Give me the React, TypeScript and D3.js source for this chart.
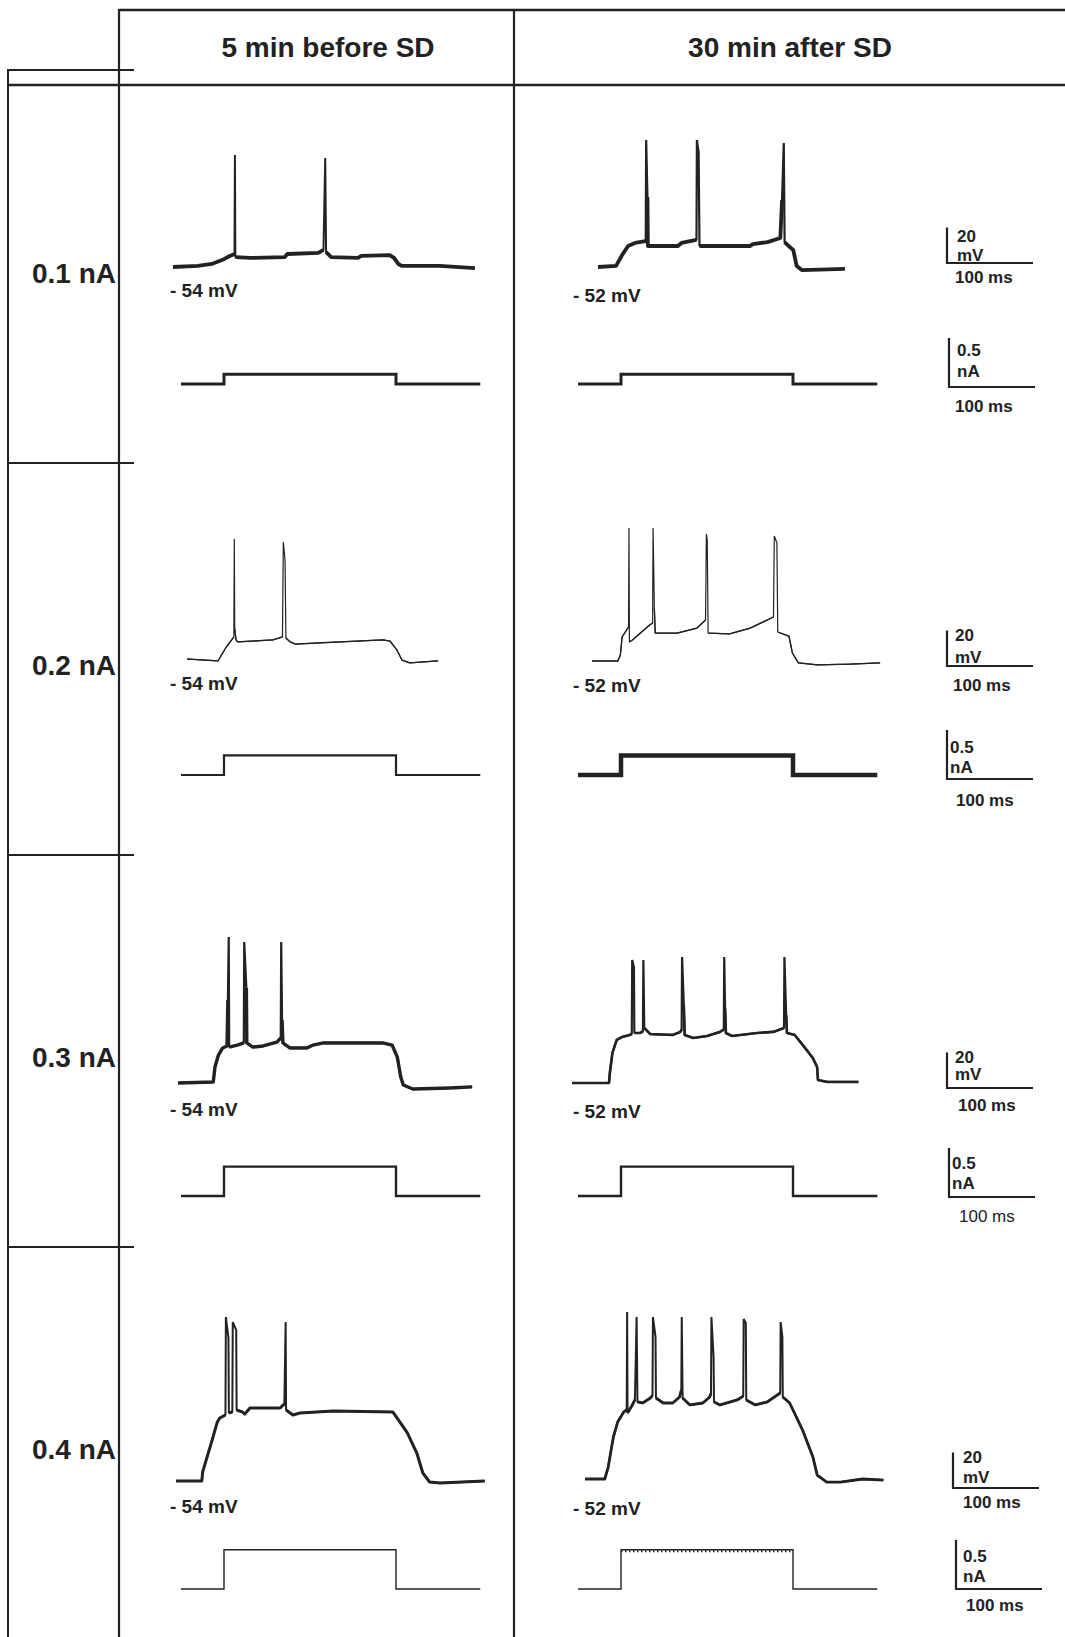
import * as d3 from 'd3';

type Pt = [number, number];

// table headings
const columns = ['5 min before SD', '30 min after SD'];
const stimulusLabels = ['0.1 nA', '0.2 nA', '0.3 nA', '0.4 nA'];
const stimulusAmps = [0.1, 0.2, 0.3, 0.4]; // nA
const restPotentials = [-54, -52]; // mV, before / after
const restLabels = ['- 54 mV', '- 52 mV'];

// current step: sweep start, step on, step off, sweep end (ms)
const stepTimes = [0, 50, 250, 348];

// calibration bars
const barMv = 20;
const barNa = 0.5;
const barMs = 100;

// membrane potential traces [ms, mV]
const r1Before: Pt[] = [[0,-54],[29,-53.4],[45,-52.3],[57,-50.1],[66,-47.8],[71.5,-46.7],[72,8.9],[72.5,-48.4],[90,-48.9],[130,-48.4],[133,-46.7],[169,-46.1],[175,-44.4],[177,7.2],[178,-45.6],[184,-48.4],[215,-48.9],[219,-47.8],[252,-47.3],[257,-48.9],[262,-52.3],[266,-53.4],[310,-53.4],[351,-54.6]];
const r1After: Pt[] = [[0,-52],[21,-51.4],[28,-45.3],[35,-40.2],[43,-38.5],[55.5,-37.4],[56,19.3],[57.5,-12.7],[58,-40.2],[93,-40.2],[97,-38.5],[114.5,-36.8],[115,19.3],[117,12.6],[118,-40.2],[177,-40.2],[180,-39.1],[197,-38],[212,-35.7],[214,-14.4],[216,17.7],[217,-38],[223,-40.8],[227,-42.4],[231,-51.4],[237,-53.7],[287,-53.1]];
const r2Before: Pt[] = [[0,-54],[21,-54.6],[36,-55.1],[45,-47.8],[54.5,-41.6],[55,13.4],[55.5,-37.1],[57,-43.3],[59,-44.4],[100,-43.3],[111,-41.6],[112,11.7],[114,1.6],[115,-42.2],[120,-44.4],[126,-45.6],[151,-45],[228,-43.3],[236,-43.9],[244,-48.9],[250,-54.6],[259,-56.2],[292,-55.1]];
const r2After: Pt[] = [[0,-52],[30,-52],[33,-48.6],[35,-38.5],[42.5,-32.9],[43,22.7],[43.5,-41.3],[47,-40.2],[67,-31.8],[70.5,-30.7],[71,22.7],[72.5,-22.2],[73.5,-36.3],[99,-36.3],[122,-33.5],[132,-29],[133,19.3],[134,16],[135,-36.3],[160,-36.8],[184,-33.5],[211,-27.3],[212,18.2],[215,14.3],[216,-35.7],[222,-36.8],[229,-38],[233,-47.5],[240,-53.1],[262,-54.2],[300,-53.7],[335,-53.1]];
const r3Before: Pt[] = [[0,-54],[41,-53.4],[43,-45],[47,-38.3],[52,-34.3],[57,-33.2],[58,-7.4],[59,28],[59.5,-33.8],[69,-32.7],[76.5,-31.5],[77,25.2],[79.5,-0.6],[80,-31.5],[87,-33.8],[99,-33.2],[115,-31],[119.5,-28.7],[120,25.2],[121,-18.6],[122,-31.5],[130,-34.3],[150,-34.3],[157,-32.7],[169,-31.5],[238,-31.5],[249,-32.7],[255,-39.4],[259,-50.6],[262,-55.1],[273,-57.4],[316,-56.8],[342,-56.2]];
const r3After: Pt[] = [[0,-52],[43,-52],[44,-46.4],[47,-35.1],[52,-27.8],[58,-26.2],[67,-25],[69.5,-24.5],[70,17.1],[72,13.2],[72.5,-23.9],[79,-23.9],[82.5,-23],[83,17.1],[84,-21.1],[91,-24.5],[117,-25],[126,-23.3],[127.5,-22],[128,18.8],[130,-8.2],[131,-25],[141,-26.7],[157,-25.6],[172,-23.3],[176.5,-22],[177,18.8],[178,-10],[179,-23.9],[186,-25.6],[215,-23.9],[234,-23.3],[246.5,-21.1],[247,18.8],[249,-13.8],[250,-23.9],[259,-25],[273,-33.5],[280,-38],[285,-43],[286,-50.3],[297,-51.4],[333,-51.4]];
const r4Before: Pt[] = [[0,-54],[30,-54],[31,-48.9],[42,-31],[48,-20.9],[51,-18.6],[57.5,-16.9],[58,38.1],[61,26.3],[61.5,-15.8],[65.5,-15.2],[66,35.3],[70,30.8],[70.5,-14.1],[77,-15.2],[80,-16.4],[86,-13],[121,-13],[126,-10.7],[127.5,35.3],[128,-14.1],[136,-16.9],[144,-15.8],[183,-14.7],[252,-15.2],[257,-18.6],[269,-27],[280,-38.3],[287,-49.5],[295,-54.6],[307,-55.1],[359,-54]];
const r4After: Pt[] = [[0,-52],[23,-52],[27,-45.3],[33,-28.4],[38,-20],[45,-14.4],[48.5,-13],[49,41.8],[49.5,-14.9],[55,-10.4],[58,-7.6],[59,14.9],[60,39],[61,-8.7],[67,-9.3],[76,-6.5],[78.5,-5],[79,39],[82,27.8],[82.5,-6.5],[91,-9.3],[102,-9.3],[110,-5.9],[112,-2],[112.5,39],[113.5,-6.5],[122,-10.4],[137,-9.3],[145,-5.9],[146.5,-4],[147,39],[149.5,16.5],[150,-8.7],[157,-10.4],[177,-7.6],[184,-5.4],[184.5,37.9],[187,35.6],[187.5,-7.6],[198,-10.4],[212,-8.7],[227,-3.7],[227.5,36.2],[229.5,27.8],[230,-5.9],[238,-9.3],[253,-24.5],[265,-39.6],[270,-49.8],[281,-53.7],[297,-53.7],[323,-52],[347,-52.6]];

const traces: Pt[][][] = [
  [r1Before, r1After],
  [r2Before, r2After],
  [r3Before, r3After],
  [r4Before, r4After],
];

// ---- layout ----
const W = 1065;
const H = 1637;
const PX_PER_MS = 0.86;
const PX_PER_MV = 1.78;
const PX_PER_NA = 98;
const INK = '#222';
const FONT = '"Liberation Sans", Arial, Helvetica, sans-serif';

// where each voltage trace starts (t=0, rest level); w = baseline weight, s = spike weight
const voltPos = [
  [{ x: 173, y: 267, w: 3.8, s: 2 }, { x: 598, y: 267, w: 3.8, s: 2.2 }],
  [{ x: 187, y: 659, w: 1.3, s: 1.2 }, { x: 592, y: 661, w: 1.3, s: 1.2 }],
  [{ x: 178, y: 1083, w: 3.4, s: 2.2 }, { x: 572, y: 1083, w: 2.6, s: 2.2 }],
  [{ x: 176, y: 1481, w: 3, s: 2 }, { x: 585, y: 1479, w: 2.8, s: 2 }],
];
const currPos = [
  [{ x: 181, y: 384, w: 3 }, { x: 578, y: 384, w: 3 }],
  [{ x: 181, y: 775, w: 2.2 }, { x: 578, y: 775, w: 4.5 }],
  [{ x: 181, y: 1196, w: 2.4 }, { x: 578, y: 1196, w: 2.4 }],
  [{ x: 181, y: 1589, w: 1.4 }, { x: 578, y: 1589, w: 1.4 }],
];
const restLabelPos = [
  [[170, 297], [573, 302]],
  [[170, 690], [573, 692]],
  [[170, 1116], [573, 1118]],
  [[170, 1513], [573, 1515]],
];
const rowLabelY = [283, 675, 1067, 1459];
const rowSepY = [463, 855, 1247];

// calibration bar placement per row
const barPos = [
  { mv: { x: 947, y: 263, tx: 957, t1: 242, t2: 261, mx: 955, my: 283 },
    na: { x: 949, y: 387, tx: 957, t1: 356, t2: 377, mx: 955, my: 412, bold: true } },
  { mv: { x: 947, y: 666, tx: 955, t1: 641, t2: 663, mx: 953, my: 691 },
    na: { x: 947, y: 779, tx: 950, t1: 753, t2: 773, mx: 956, my: 806, bold: true } },
  { mv: { x: 947, y: 1088, tx: 955, t1: 1063, t2: 1080, mx: 958, my: 1111 },
    na: { x: 949, y: 1197, tx: 952, t1: 1169, t2: 1189, mx: 959, my: 1222, bold: false } },
  { mv: { x: 953, y: 1488, tx: 963, t1: 1463, t2: 1483, mx: 963, my: 1508 },
    na: { x: 956, y: 1589, tx: 963, t1: 1562, t2: 1582, mx: 966, my: 1611, bold: true } },
];

function VoltageTrace({ data, pos, rest }: { data: Pt[]; pos: { x: number; y: number; w: number; s: number }; rest: number }) {
  const x = d3.scaleLinear().domain([0, 100]).range([pos.x, pos.x + 100 * PX_PER_MS]);
  const y = d3.scaleLinear().domain([rest, rest + 100]).range([pos.y, pos.y - 100 * PX_PER_MV]);
  const line = d3.line<Pt>().x(d => x(d[0])).y(d => y(d[1]));
  // heavier stroke only for the sub-threshold part, so spikes stay thin
  const sub = d3.line<Pt>().defined(d => d[1] < 0).x(d => x(d[0])).y(d => y(d[1]));
  return (
    <g fill="none" stroke={INK}>
      <path d={line(data) || ''} strokeWidth={pos.s} strokeLinejoin="bevel" />
      <path d={sub(data) || ''} strokeWidth={pos.w} strokeLinejoin="round" strokeLinecap="butt" />
    </g>
  );
}

function CurrentStep({ amp, pos, ticked }: { amp: number; pos: { x: number; y: number; w: number }; ticked: boolean }) {
  const x = d3.scaleLinear().domain([0, 100]).range([pos.x, pos.x + 100 * PX_PER_MS]);
  const y = d3.scaleLinear().domain([0, 1]).range([pos.y, pos.y - PX_PER_NA]);
  const [t0, tOn, tOff, tEnd] = stepTimes;
  const pts: Pt[] = [[t0, 0], [tOn, 0], [tOn, amp], [tOff, amp], [tOff, 0], [tEnd, 0]];
  const line = d3.line<Pt>().x(d => x(d[0])).y(d => y(d[1]));
  return (
    <g>
      <path d={line(pts) || ''} fill="none" stroke={INK} strokeWidth={pos.w} strokeLinejoin="miter" />
      {ticked && (
        <line x1={x(tOn)} x2={x(tOff)} y1={y(amp) + 1.5} y2={y(amp) + 1.5}
          stroke={INK} strokeWidth={2} strokeDasharray="1.5 2.5" />
      )}
    </g>
  );
}

function ScaleBar({ p, vLen, hLen, top, bottom }: any) {
  const textStyle = { fontFamily: FONT, fontSize: 17, fontWeight: p.bold === false ? 400 : 700, fill: INK };
  return (
    <g>
      <path d={`M${p.x},${p.y - vLen}V${p.y}H${p.x + hLen}`} fill="none" stroke={INK} strokeWidth={2.2} />
      <text x={p.tx} y={p.t1} style={{ ...textStyle, fontWeight: 700 }}>{top}</text>
      <text x={p.tx} y={p.t2} style={{ ...textStyle, fontWeight: 700 }}>{bottom}</text>
      <text x={p.mx} y={p.my} style={textStyle}>{barMs} ms</text>
    </g>
  );
}

export default function App() {
  const mvLen = barMv * PX_PER_MV;
  const naLen = barNa * PX_PER_NA;
  const msLen = barMs * PX_PER_MS;
  const colCenters = [328, 790];

  return (
    <svg width={W} height={H} viewBox={`0 0 ${W} ${H}`}
      style={{ position: 'absolute', left: 0, top: 0, background: '#fff' }}>
      <rect width={W} height={H} fill="#fff" />

      {/* table frame */}
      <g stroke={INK} fill="none">
        <line x1={119} x2={W} y1={10} y2={10} strokeWidth={2.4} />
        <line x1={8} x2={134} y1={70} y2={70} strokeWidth={2} />
        <line x1={8} x2={W} y1={85} y2={85} strokeWidth={2.4} />
        <line x1={8} x2={8} y1={69} y2={H} strokeWidth={2} />
        <line x1={119} x2={119} y1={9} y2={H} strokeWidth={2.2} />
        <line x1={514} x2={514} y1={9} y2={H} strokeWidth={2.2} />
        {rowSepY.map(y => <line key={y} x1={8} x2={134} y1={y} y2={y} strokeWidth={2} />)}
      </g>

      {columns.map((c, i) => (
        <text key={c} x={colCenters[i]} y={57} textAnchor="middle"
          style={{ fontFamily: FONT, fontSize: 28, fontWeight: 700, fill: INK }}>{c}</text>
      ))}

      {stimulusLabels.map((s, r) => (
        <g key={s}>
          <text x={116} y={rowLabelY[r]} textAnchor="end"
            style={{ fontFamily: FONT, fontSize: 28, fontWeight: 700, fill: INK }}>{s}</text>
          {[0, 1].map(c => (
            <g key={c}>
              <VoltageTrace data={traces[r][c]} pos={voltPos[r][c]} rest={restPotentials[c]} />
              <CurrentStep amp={stimulusAmps[r]} pos={currPos[r][c]} ticked={r === 3 && c === 1} />
              <text x={restLabelPos[r][c][0]} y={restLabelPos[r][c][1]}
                style={{ fontFamily: FONT, fontSize: 19, fontWeight: 700, fill: INK }}>{restLabels[c]}</text>
            </g>
          ))}
          <ScaleBar p={barPos[r].mv} vLen={mvLen} hLen={msLen} top={barMv} bottom="mV" />
          <ScaleBar p={barPos[r].na} vLen={naLen} hLen={msLen} top={barNa} bottom="nA" />
        </g>
      ))}
    </svg>
  );
}
